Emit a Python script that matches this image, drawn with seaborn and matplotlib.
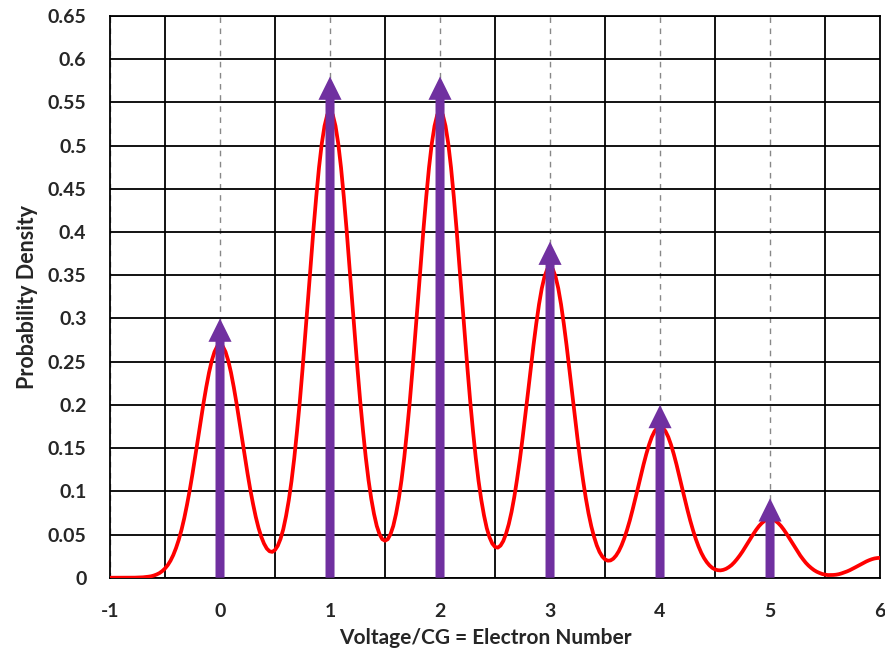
import numpy as np
import pandas as pd
import matplotlib
matplotlib.use("Agg")
import matplotlib.pyplot as plt
import seaborn as sns
from matplotlib.ticker import MultipleLocator

x_values = [round(-1 + 0.025 * i, 3) for i in range(281)]
density = [
    # -1.000 .. -0.025
    0.0, 0.0, 0.0, 0.0, 0.0, 0.0, 0.0, 0.00004, 0.0001, 0.0001,
    0.0002, 0.0003, 0.0005, 0.0008, 0.0012, 0.0017, 0.0026, 0.0038, 0.0054, 0.0077,
    0.0107, 0.0146, 0.0197, 0.0262, 0.0343, 0.0439, 0.0554, 0.0689, 0.0845, 0.1015,
    0.1204, 0.1404, 0.1609, 0.1817, 0.2020, 0.2206, 0.2373, 0.2511, 0.2614, 0.2678,
    # 0.000 .. 0.975
    0.27, 0.2678, 0.2614, 0.2511, 0.2373, 0.2206, 0.2020, 0.1818, 0.1610, 0.1406,
    0.1208, 0.1021, 0.0855, 0.0704, 0.0577, 0.0474, 0.0395, 0.0338, 0.0306, 0.0299,
    0.0321, 0.0370, 0.0449, 0.0561, 0.0712, 0.0895, 0.1119, 0.1385, 0.1695, 0.2033,
    0.2410, 0.2809, 0.3219, 0.3634, 0.4039, 0.4412, 0.4747, 0.5022, 0.5227, 0.5357,
    # 1.000 .. 1.975
    0.54, 0.5357, 0.5227, 0.5022, 0.4747, 0.4412, 0.4039, 0.3635, 0.3220, 0.2810,
    0.2412, 0.2036, 0.1700, 0.1392, 0.1130, 0.0913, 0.0738, 0.0599, 0.0504, 0.0446,
    0.0428, 0.0446, 0.0504, 0.0599, 0.0738, 0.0913, 0.1130, 0.1392, 0.1700, 0.2036,
    0.2412, 0.2810, 0.3220, 0.3635, 0.4039, 0.4412, 0.4747, 0.5022, 0.5227, 0.5357,
    # 2.000 .. 2.975
    0.54, 0.5357, 0.5227, 0.5022, 0.4747, 0.4412, 0.4039, 0.3635, 0.3220, 0.2810,
    0.2411, 0.2034, 0.1696, 0.1387, 0.1122, 0.0901, 0.0720, 0.0573, 0.0467, 0.0395,
    0.0357, 0.0348, 0.0372, 0.0425, 0.0509, 0.0620, 0.0761, 0.0933, 0.1137, 0.1360,
    0.1610, 0.1874, 0.2147, 0.2424, 0.2693, 0.2941, 0.3164, 0.3348, 0.3485, 0.3571,
    # 3.000 .. 3.975
    0.36, 0.3571, 0.3485, 0.3348, 0.3164, 0.2941, 0.2693, 0.2423, 0.2146, 0.1873,
    0.1607, 0.1356, 0.1130, 0.0923, 0.0745, 0.0596, 0.0474, 0.0374, 0.0298, 0.0245,
    0.0212, 0.0197, 0.0200, 0.0220, 0.0256, 0.0307, 0.0374, 0.0456, 0.0554, 0.0662,
    0.0784, 0.0912, 0.1044, 0.1179, 0.1309, 0.1430, 0.1538, 0.1628, 0.1694, 0.1736,
    # 4.000 .. 4.975
    0.175, 0.1736, 0.1694, 0.1628, 0.1538, 0.1430, 0.1309, 0.1178, 0.1043, 0.0910,
    0.0781, 0.0659, 0.0549, 0.0448, 0.0362, 0.0288, 0.0228, 0.0180, 0.0142, 0.0114,
    0.0096, 0.0087, 0.0085, 0.0091, 0.0103, 0.0122, 0.0146, 0.0178, 0.0216, 0.0258,
    0.0304, 0.0355, 0.0405, 0.0458, 0.0509, 0.0556, 0.0598, 0.0632, 0.0658, 0.0675,
    # 5.000 .. 6.000
    0.068, 0.0675, 0.0658, 0.0632, 0.0598, 0.0556, 0.0509, 0.0458, 0.0405, 0.0354,
    0.0303, 0.0256, 0.0213, 0.0173, 0.0140, 0.0112, 0.0088, 0.0069, 0.0055, 0.0043,
    0.0036, 0.0031, 0.0031, 0.0032, 0.0035, 0.0041, 0.0050, 0.0061, 0.0073, 0.0087,
    0.0103, 0.0120, 0.0137, 0.0155, 0.0172, 0.0188, 0.0202, 0.0214, 0.0223, 0.0228,
    0.023,
]
electron_numbers = [0, 1, 2, 3, 4, 5]
arrow_heights = [0.300, 0.580, 0.580, 0.389, 0.200, 0.092]
x_tick_labels = ["-1", "0", "1", "2", "3", "4", "5", "6"]
y_tick_labels = ["0", "0.05", "0.1", "0.15", "0.2", "0.25", "0.3", "0.35", "0.4",
                 "0.45", "0.5", "0.55", "0.6", "0.65"]

df = pd.DataFrame({"x": x_values, "density": density})

sns.set_style("white")
plt.rcParams["font.family"] = ["Lato", "DejaVu Sans"]

fig = plt.figure(figsize=(8.85, 6.58), dpi=100)
ax = fig.add_axes([0.1243, 0.122, 0.8701, 0.8537])

ax.set_xlim(-1, 6)
ax.set_ylim(0, 0.65)
ax.xaxis.set_major_locator(MultipleLocator(1))
ax.xaxis.set_minor_locator(MultipleLocator(0.5))
ax.yaxis.set_major_locator(MultipleLocator(0.05))
ax.set_axisbelow(True)
ax.grid(True, which="major", axis="y", color="black", linewidth=1.3)
ax.grid(True, which="minor", axis="x", color="black", linewidth=1.3)
ax.grid(True, which="major", axis="x", color="#888888", linewidth=1.0,
        linestyle=(0, (4, 4)))

sns.lineplot(data=df, x="x", y="density", ax=ax, color="#FF0000",
             linewidth=2.7, zorder=3)

for xe, h in zip(electron_numbers, arrow_heights):
    ax.arrow(xe, 0, 0, h, width=0.082, head_width=0.21, head_length=0.027,
             length_includes_head=True, color="#7030A0", zorder=4, linewidth=0)

ax.set_xticks(range(-1, 7))
ax.set_xticklabels(x_tick_labels)
ax.set_yticks([i * 0.05 for i in range(14)])
ax.set_yticklabels(y_tick_labels)
ax.tick_params(axis="both", which="both", length=0, labelsize=14)
ax.tick_params(axis="x", pad=18)
ax.tick_params(axis="y", pad=17)
for lab in ax.get_xticklabels() + ax.get_yticklabels():
    lab.set_fontweight("bold")

ax.set_xlabel("Voltage/CG = Electron Number", fontsize=15, fontweight="bold",
              labelpad=6)
ax.set_ylabel("Probability Density", fontsize=15.5, fontweight="bold", labelpad=7)
ax.xaxis.set_label_coords(0.488, -0.09)

for s in ax.spines.values():
    s.set_color("black")
    s.set_linewidth(1.3)
    s.set_visible(True)

fig.savefig("out.png", dpi=100)
